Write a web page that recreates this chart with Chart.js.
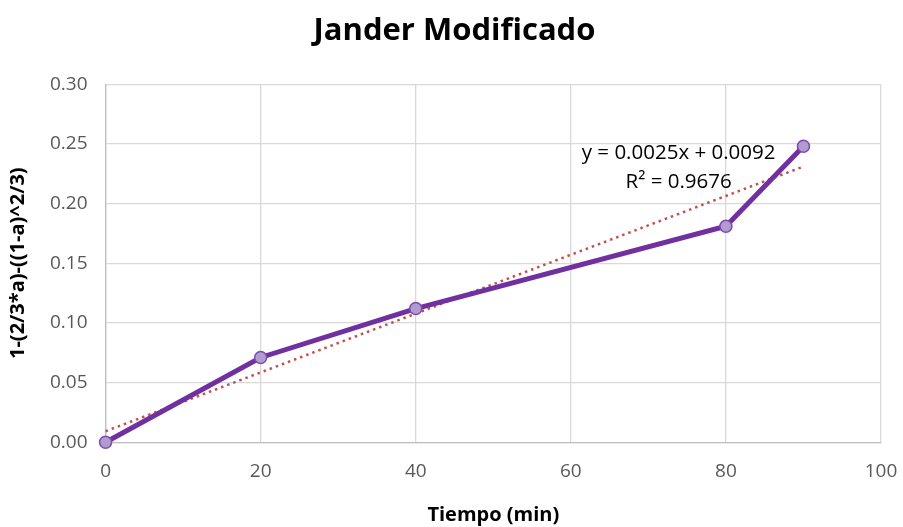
<!DOCTYPE html>
<html>
<head>
<meta charset="utf-8">
<script src="https://cdn.jsdelivr.net/npm/chart.js@4"></script>
<style>
  html, body { margin: 0; padding: 0; background: #fff; }
  #wrap { width: 903px; height: 527px; }
</style>
</head>
<body>
<div id="wrap"><canvas id="chart" width="903" height="527"></canvas></div>
<script>
// values
const tiempo = [0, 20, 40, 80, 90];
const valores = [0.0, 0.071, 0.112, 0.181, 0.248];
const tendenciaX = [0, 90];
const tendenciaY = [0.0092, 0.231];
const ecuacion = ["y = 0.0025x + 0.0092", "R² = 0.9676"];
const xTicks = [0, 20, 40, 60, 80, 100];
const yTicks = [0, 0.05, 0.10, 0.15, 0.20, 0.25, 0.30];

const fontName = "'Open Sans', 'Noto Sans', sans-serif";

// draws the trendline equation like Excel's label
const labelPlugin = {
    id: "ecuacion",
    afterDatasetsDraw(chart) {
        const ctx = chart.ctx;
        const xs = chart.scales.x;
        const ys = chart.scales.y;
        ctx.save();
        ctx.fillStyle = "#000";
        ctx.font = "20.5px " + fontName;
        ctx.textAlign = "center";
        ctx.textBaseline = "middle";
        ctx.fillText(ecuacion[0], xs.getPixelForValue(73.9), ys.getPixelForValue(0.2425));
        ctx.fillText(ecuacion[1], xs.getPixelForValue(73.9), ys.getPixelForValue(0.2175));
        ctx.restore();
    }
};

const chart = new Chart(document.getElementById("chart"), {
    type: "scatter",
    data: {
        datasets: [
            {
                label: "datos",
                data: tiempo.map((t, i) => ({ x: t, y: valores[i] })),
                showLine: true,
                borderColor: "#7030A0",
                borderWidth: 5,
                pointRadius: 6,
                pointBackgroundColor: "#B19CD0",
                pointBorderColor: "#7F49B0",
                pointBorderWidth: 1.5,
                clip: false,
                order: 1
            },
            {
                label: "tendencia",
                data: tendenciaX.map((t, i) => ({ x: t, y: tendenciaY[i] })),
                showLine: true,
                borderColor: "#C0504D",
                borderWidth: 2.5,
                borderDash: [2.5, 4],
                pointRadius: 0,
                clip: false,
                order: 2
            }
        ]
    },
    options: {
        responsive: false,
        animation: false,
        layout: { padding: { left: 6, right: 0, top: 12, bottom: 0 } },
        plugins: {
            legend: { display: false },
            tooltip: { enabled: false },
            title: {
                display: true,
                text: "Jander Modificado",
                color: "#000",
                font: { family: fontName, size: 31, weight: "bold" },
                padding: { top: 1, bottom: 34 }
            }
        },
        scales: {
            x: {
                type: "linear",
                min: 0,
                max: 100,
                afterBuildTicks: (axis) => { axis.ticks = xTicks.map(v => ({ value: v })); },
                // keep the right edge of the plot where the reference has it
                afterFit: (axis) => { axis.paddingRight = 22; },
                grid: { color: "#D9D9D9", lineWidth: 1.3, drawTicks: false },
                border: { color: "#BFBFBF", width: 1.3 },
                ticks: {
                    color: "#595959",
                    font: { family: fontName, size: 19 },
                    padding: 18
                },
                title: {
                    display: true,
                    text: "Tiempo (min)",
                    color: "#000",
                    font: { family: fontName, size: 20, weight: "bold" },
                    padding: { top: 2, bottom: 0 }
                }
            },
            y: {
                min: 0,
                max: 0.30,
                afterBuildTicks: (axis) => { axis.ticks = yTicks.map(v => ({ value: v })); },
                grid: { color: "#D9D9D9", lineWidth: 1.3, drawTicks: false },
                border: { color: "#BFBFBF", width: 1.3 },
                ticks: {
                    color: "#595959",
                    font: { family: fontName, size: 19 },
                    padding: 18,
                    callback: (v) => v.toFixed(2)
                },
                title: {
                    display: true,
                    text: "1-(2/3*a)-((1-a)^2/3)",
                    color: "#000",
                    font: { family: fontName, size: 20, weight: "bold" },
                    padding: { top: 0, bottom: 2 }
                }
            }
        }
    },
    plugins: [labelPlugin]
});
</script>
</body>
</html>
